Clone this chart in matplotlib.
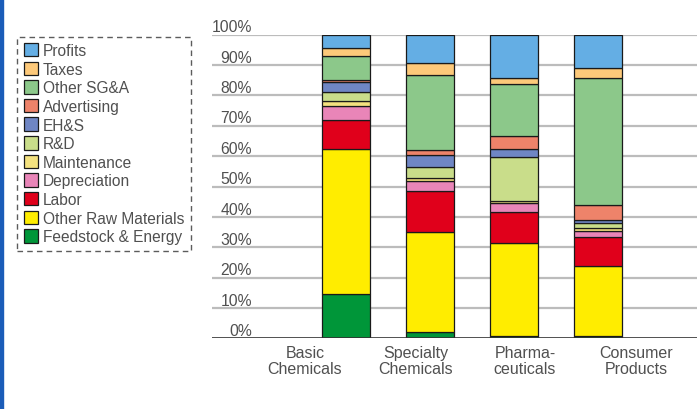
import matplotlib.pyplot as plt
from matplotlib.patches import Rectangle, Patch
from matplotlib.transforms import blended_transform_factory

plt.rcParams['font.family'] = ['Liberation Sans', 'DejaVu Sans']

categories = ['Basic\nChemicals', 'Specialty\nChemicals', 'Pharma-\nceuticals', 'Consumer\nProducts']

# components, bottom to top (percent of sales)
components = ['Feedstock & Energy', 'Other Raw Materials', 'Labor', 'Depreciation',
              'Maintenance', 'R&D', 'EH&S', 'Advertising', 'Other SG&A', 'Taxes', 'Profits']
feedstock = [14.6, 2.0, 0.9, 0.7]
raw_materials = [47.7, 32.9, 30.4, 23.2]
labor = [9.6, 13.6, 10.4, 9.4]
depreciation = [4.7, 3.2, 2.8, 2.1]
maintenance = [1.5, 1.0, 0.7, 0.8]
rnd = [2.9, 3.8, 14.6, 1.9]
ehs = [3.5, 4.0, 2.6, 0.8]
advertising = [0.7, 1.5, 4.2, 5.1]
other_sga = [7.7, 24.8, 17.3, 41.6]
taxes = [2.6, 3.8, 1.8, 3.3]
profits = [4.5, 9.4, 14.3, 11.1]

series = [feedstock, raw_materials, labor, depreciation, maintenance, rnd,
          ehs, advertising, other_sga, taxes, profits]
colors = ['#009639', '#ffed00', '#e0001b', '#e985b8', '#f4e27f', '#c9dd8a',
          '#6f86c4', '#ee836a', '#8cc88a', '#fdc97a', '#64aee4']

W, H = 697, 410
fig = plt.figure(figsize=(W / 100, H / 100), dpi=100)
ax = fig.add_axes([212 / W, 70.7 / H, 485 / W, 303.6 / H])

x = list(range(len(categories)))
bottom = [0.0] * len(categories)
for vals, col in zip(series, colors):
    ax.bar(x, vals, 0.571, bottom=bottom, color=col, edgecolor='#1a1a1a', linewidth=0.9, zorder=3)
    bottom = [b + v for b, v in zip(bottom, vals)]

ax.set_xlim(-1.595, 4.179)
ax.set_ylim(0, 100)
for s in ax.spines.values():
    s.set_visible(False)
ax.set_xticks([])
ax.set_yticks([])

text_col = '#505050'
ticks = list(range(0, 101, 10))
for t in ticks:
    if t == 0:
        ax.axhline(t, color='#333333', linewidth=1.2, zorder=4)
    else:
        ax.axhline(t, color='#bcbcbc', linewidth=1.6, zorder=1)
    ax.text(-1.12, t + 0.1, f'{t}%', ha='right', va='bottom', fontsize=11.3,
            color=text_col, transform=ax.transData)

# category labels sit slightly off the bars in the original
label_pos = [-0.488, 0.833, 2.131, 3.452]
trans = blended_transform_factory(ax.transData, ax.transAxes)
for p, c in zip(label_pos, categories):
    ax.text(p, -0.022, c, ha='center', va='top', fontsize=11.5, color=text_col,
            linespacing=1.05, transform=trans)

handles = [Patch(facecolor=c, edgecolor='#1a1a1a', linewidth=0.9, label=n)
           for c, n in zip(colors, components)][::-1]
leg = fig.legend(handles=handles, loc='upper left', bbox_to_anchor=(17.3 / W, 1 - 37.7 / H),
                 borderaxespad=0, fontsize=11.2, frameon=True, fancybox=False,
                 handlelength=0.95, handleheight=0.95, handletextpad=0.3,
                 labelspacing=0.23, borderpad=0.4, labelcolor=text_col)
fr = leg.get_frame()
fr.set_linestyle((0, (4, 3)))
fr.set_edgecolor('#333333')
fr.set_linewidth(1.0)

fig.add_artist(Rectangle((0, 0), 3.3 / W, 1, transform=fig.transFigure,
                         color='#1b5cb8', zorder=10))

fig.savefig('out.png', dpi=100)
